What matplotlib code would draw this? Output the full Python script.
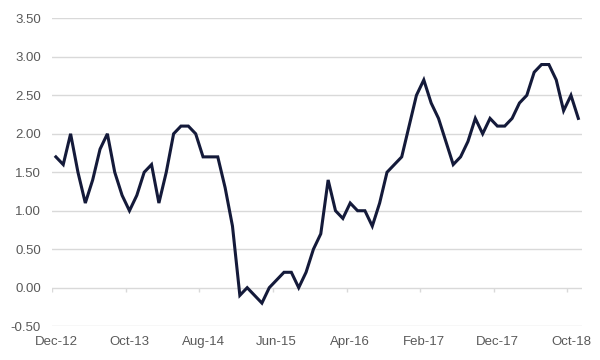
import numpy as np
import matplotlib
matplotlib.use('Agg')
import matplotlib.pyplot as plt

# monthly values, Dec-12 .. Nov-18
values = [1.7, 1.6, 2.0, 1.5, 1.1, 1.4, 1.8, 2.0, 1.5, 1.2, 1.0, 1.2,
          1.5, 1.6, 1.1, 1.5, 2.0, 2.1, 2.1, 2.0, 1.7, 1.7, 1.7, 1.3,
          0.8, -0.1, 0.0, -0.1, -0.2, 0.0, 0.1, 0.2, 0.2, 0.0, 0.2, 0.5,
          0.7, 1.4, 1.0, 0.9, 1.1, 1.0, 1.0, 0.8, 1.1, 1.5, 1.6, 1.7,
          2.1, 2.5, 2.7, 2.4, 2.2, 1.9, 1.6, 1.7, 1.9, 2.2, 2.0, 2.2,
          2.1, 2.1, 2.2, 2.4, 2.5, 2.8, 2.9, 2.9, 2.7, 2.3, 2.5, 2.2]
tick_labels = ['Dec-12', 'Oct-13', 'Aug-14', 'Jun-15', 'Apr-16', 'Feb-17', 'Dec-17', 'Oct-18']
y_ticks = [-0.5, 0.0, 0.5, 1.0, 1.5, 2.0, 2.5, 3.0, 3.5]

plt.rcParams['font.family'] = ['Liberation Sans', 'DejaVu Sans']

fig = plt.figure(figsize=(6, 3.6), dpi=100)
ax = fig.add_axes([0.087, 0.094, 0.883, 0.855])

x = np.arange(len(values))
grid_col = '#d9d9d9'
for yv in y_ticks:
    ax.axhline(yv, color=grid_col, lw=1, zorder=1)

# small tick marks hanging off the zero line every 10 categories
ax.vlines(np.arange(0, len(values), 10) - 0.5, -0.055, 0, color=grid_col, lw=1, zorder=1)

ax.plot(x, values, color='#141a3a', lw=2.2, solid_joinstyle='miter', zorder=3)

ax.set_xlim(-0.5, len(values) - 0.5)
ax.set_ylim(-0.5, 3.5)
ax.set_yticks(y_ticks)
ax.set_yticklabels(['%.2f' % v for v in y_ticks])
ax.set_xticks(np.arange(0, len(values), 10))
ax.set_xticklabels(tick_labels)
ax.tick_params(axis='both', length=0, labelsize=9.5, labelcolor='#595959')
ax.tick_params(axis='y', pad=8)
ax.tick_params(axis='x', pad=7)
for s in ax.spines.values():
    s.set_visible(False)

fig.savefig('out.png', dpi=100)
